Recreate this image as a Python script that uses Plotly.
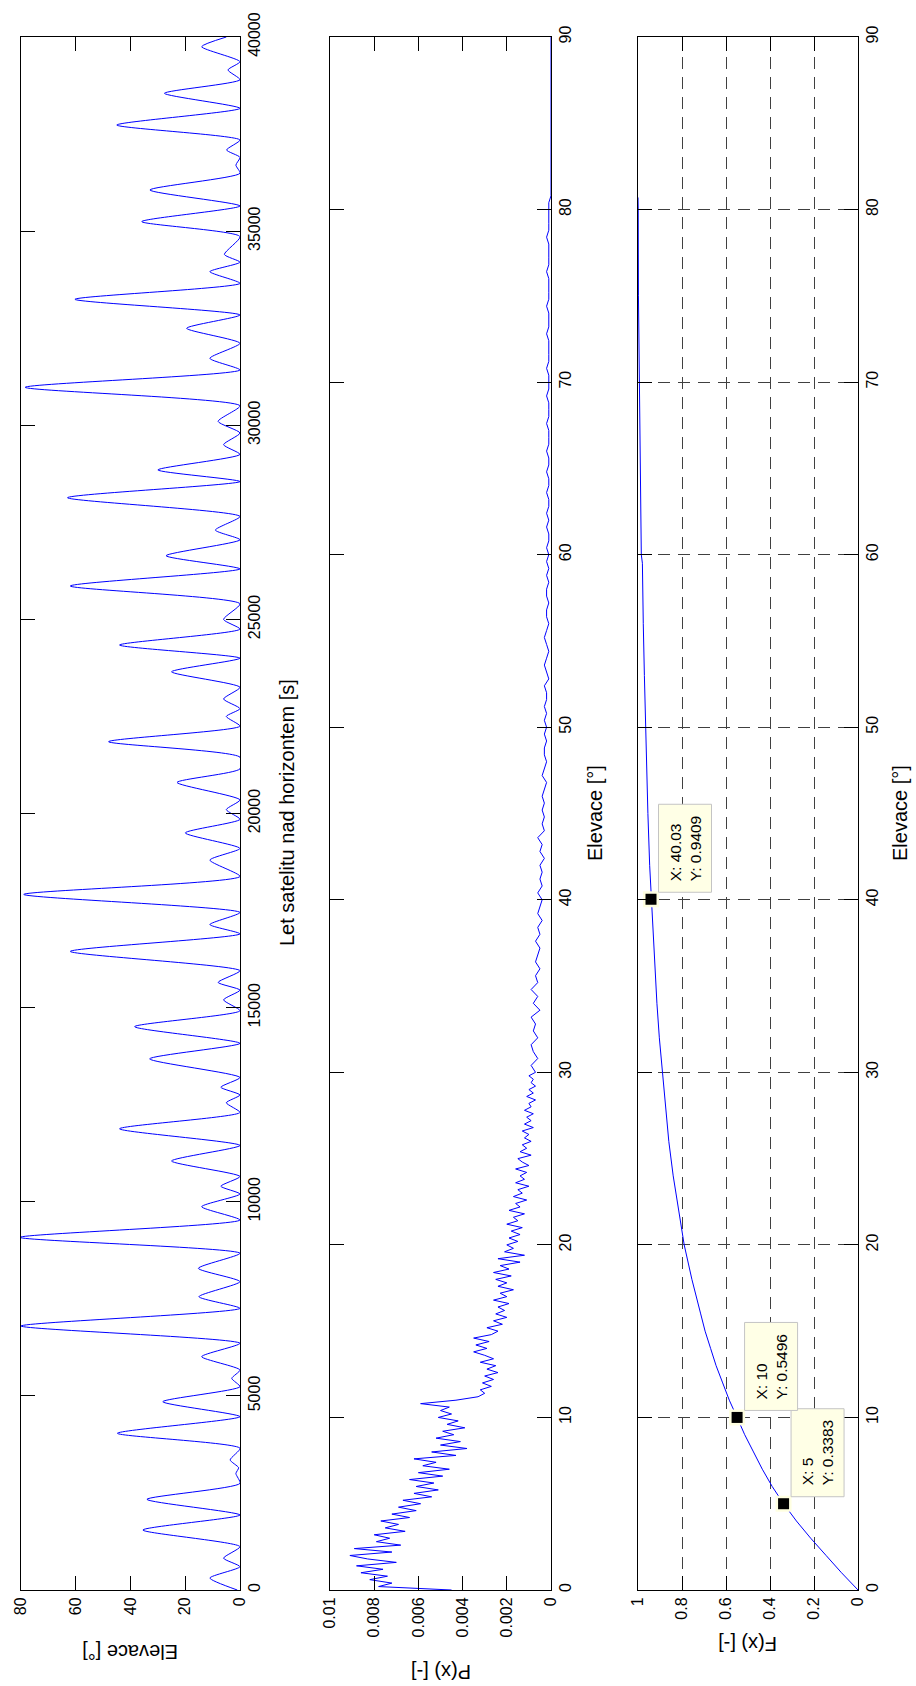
import plotly.graph_objects as go

# ---------------- Panel 1: elevation of the satellite during the flight ----------------
# (time [s], elevation [deg]) at the horizon crossings and culminations of each pass
flight_time_s = [
    0, 309, 600, 820, 1116, 1545, 1932, 2335, 2747, 3000, 3150, 3350, 3650,
    4036, 4465, 4850, 5237, 5450, 5667, 6010, 6354, 6800, 7255, 7555, 7942,
    8285, 8672, 9083, 9530, 9873, 10200, 10400, 10650, 11050, 11450, 11880,
    12300, 12550, 12750, 12950, 13200, 13680, 14080, 14510, 14920, 15200,
    15450, 15650, 15950, 16448, 16900, 17140, 17450, 17916, 18380, 18800,
    19100, 19500, 19850, 20100, 20350, 20800, 21150, 21450, 21850, 22250,
    22500, 22700, 22950, 23250, 23650, 24000, 24340, 24750, 25000, 25400,
    25860, 26300, 26640, 27050, 27300, 27650, 28134, 28550, 28850, 29250,
    29500, 29800, 30100, 30500, 30977,
    31424, 31724, 32111, 32497, 32840, 33244, 33656, 33956, 34200, 34400,
    34858, 35245, 35648, 36060, 36490, 36700, 36900, 37090, 37347, 37733,
    38163, 38550, 38900, 39151, 39364, 39750, 40000,
]
flight_elev_deg = [
    1, 11, 0, 6, 0, 35.5, 0, 34, 0, 1.5, 0.5, 3.6, 0,
    44.8, 0, 28.2, 0, 3, 0, 14, 0, 80, 0, 15, 0,
    15.2, 0, 80.4, 0, 14, 0, 7, 0, 25, 0, 44,
    0, 5, 0, 7, 0, 33, 0, 38.5, 0, 6,
    0, 8, 0, 62, 0, 11, 0, 79, 0, 11,
    0, 20, 0, 5, 0, 23, 0, 0, 48, 0,
    5, 0, 6, 0, 25, 0, 44, 0, 6, 0,
    62, 0, 27, 0, 9, 0, 63, 0, 30, 0,
    6, 0, 8, 0, 78.5,
    0, 11, 0, 19.5, 0, 60.3, 0, 11, 0, 5.7,
    0, 35.9, 0, 32.9, 0, 1.5, 0, 4.9, 0, 45,
    0, 27.6, 0, 4.4, 0, 14, 5,
]

# ---------------- Panel 2: probability of each elevation ----------------
# 0 .. 29.8 deg every 0.2 deg, values in units of 1e-3
pdf_fine_x1e3 = [
    4.5, 7.8, 7.2, 8.2, 7.4, 8.6, 7.6, 8.8, 7.0, 8.3,
    9.1, 7.2, 8.9, 6.8, 7.9, 7.3, 8.0, 6.6, 7.5, 6.9,
    7.7, 6.4, 7.2, 6.1, 6.9, 5.9, 6.7, 5.4, 6.2, 5.1,
    6.1, 5.3, 6.4, 4.9, 6.0, 4.6, 5.8, 5.2, 6.2, 4.3,
    5.4, 3.8, 5.0, 4.1, 5.2, 4.4, 4.9, 3.9, 4.7, 4.2,
    5.1, 4.5, 5.0, 4.6, 5.9, 4.3, 3.3, 3.0, 3.2, 2.7,
    3.1, 2.6, 3.0, 2.4, 2.9, 2.5, 3.2, 2.6, 3.0, 3.5,
    2.9, 3.4, 2.8, 3.5, 2.7, 2.4, 2.9, 2.2, 2.6, 2.0,
    2.5, 2.1, 2.4, 1.9, 2.6, 2.0, 2.3, 1.7, 2.4, 2.0,
    2.5, 1.8, 2.6, 1.9, 2.3, 1.4, 2.4, 1.2, 2.1, 1.7,
    2.0, 1.5, 1.9, 1.4, 1.8, 1.3, 2.0, 1.5, 1.7, 1.2,
    1.9, 1.4, 1.6, 1.1, 1.7, 1.3, 1.5, 1.0, 1.6, 1.2,
    1.4, 1.1, 1.6, 1.0, 1.3, 1.5, 0.9, 1.4, 1.1, 1.3,
    0.9, 1.2, 1.0, 1.3, 0.8, 1.2, 0.9, 1.1, 0.8, 1.2,
    0.9, 1.0, 0.7, 1.1, 0.8, 1.0, 0.7, 0.9, 0.8, 1.0,
]
# 30 .. 80.8 deg every 0.4 deg, values in units of 1e-3
pdf_coarse_x1e3 = [
    0.7, 0.9, 0.6, 0.8, 0.9, 0.6, 0.8, 0.7, 0.9, 0.5,
    0.8, 0.6, 0.9, 0.6, 0.7, 0.5, 0.7, 0.6, 0.5, 0.7,
    0.5, 0.6, 0.4, 0.6, 0.5, 0.4, 0.6, 0.4, 0.5, 0.4,
    0.5, 0.3, 0.5, 0.4, 0.6, 0.3, 0.4, 0.3, 0.4, 0.3,
    0.4, 0.3, 0.2, 0.4, 0.3, 0.2, 0.3, 0.3, 0.2, 0.3,
    0.2, 0.3, 0.2, 0.3, 0.2, 0.2, 0.3, 0.1, 0.2, 0.3,
    0.2, 0.1, 0.2, 0.3, 0.2, 0.1, 0.2, 0.2, 0.1, 0.2,
    0.2, 0.1, 0.2, 0.1, 0.2, 0.1, 0.2, 0.1, 0.1, 0.2,
    0.1, 0.2, 0.1, 0.1, 0.2, 0.1, 0.1, 0.2, 0.1, 0.1,
    0.2, 0.1, 0.1, 0.1, 0.2, 0.1, 0.1, 0.1, 0.2, 0.1,
    0.1, 0.1, 0.2, 0.1, 0.1, 0.1, 0.1, 0.2, 0.1, 0.1,
    0.1, 0.2, 0.1, 0.1, 0.1, 0.1, 0.2, 0.1, 0.1, 0.1,
    0.1, 0.2, 0.1, 0.1, 0.1, 0.1, 0.1, 0.0,
]
pdf_tail_elev = [81, 90]
pdf_tail_x1e3 = [0.0, 0.0]

# ---------------- Panel 3: cumulative distribution ----------------
cdf_elev_deg = [0, 1, 2, 3, 4, 5, 6, 7, 8, 9, 10, 11, 12, 13, 14, 15, 16, 18, 20, 22,
                24, 26, 28, 30, 32, 34, 36, 38, 40.03, 42, 45, 48, 50, 53, 56, 59.5,
                60, 63, 66, 69.7, 70, 75, 80, 80.7]
cdf_prob = [0, 0.075, 0.145, 0.215, 0.28, 0.3383, 0.39, 0.435, 0.475, 0.515, 0.5496,
            0.585, 0.615, 0.645, 0.67, 0.695, 0.715, 0.755, 0.79, 0.815, 0.84, 0.86,
            0.875, 0.89, 0.903, 0.914, 0.923, 0.932, 0.9409, 0.947, 0.955, 0.962,
            0.966, 0.971, 0.976, 0.98, 0.985, 0.988, 0.991, 0.993, 0.996, 0.998,
            0.999, 1.0]

# data cursors
tip_elev = [5, 10, 40.03]
tip_prob = [0.3383, 0.5496, 0.9409]
tip_x_text = ["5", "10", "40.03"]
tip_y_text = ["0.3383", "0.5496", "0.9409"]

# tick labels
time_ticks = list(range(0, 40001, 5000))
elev_ticks_deg = [0, 20, 40, 60, 80]
angle_ticks = list(range(0, 91, 10))
pdf_ticks = [0, 0.002, 0.004, 0.006, 0.008, 0.01]
pdf_tick_text = ["0", "0.002", "0.004", "0.006", "0.008", "0.01"]
cdf_ticks = [0, 0.2, 0.4, 0.6, 0.8, 1]
cdf_tick_text = ["0", "0.2", "0.4", "0.6", "0.8", "1"]

pdf_elev_deg = ([round(0.2 * i, 1) for i in range(len(pdf_fine_x1e3))]
                + [round(30 + 0.4 * i, 1) for i in range(len(pdf_coarse_x1e3))]
                + pdf_tail_elev)
pdf_prob = [v / 1000 for v in pdf_fine_x1e3 + pdf_coarse_x1e3 + pdf_tail_x1e3]

# ---------------- layout geometry (pixels) ----------------
W, H = 916, 1686
TOP, BOTTOM = 37, 1590
PANELS = [(21, 240), (330, 551), (638, 858)]
FONT = "Liberation Sans, Arial, Helvetica, sans-serif"
BLUE = "#0000FF"


def xdom(i):
    return [PANELS[i][0] / W, PANELS[i][1] / W]


YDOM = [1 - BOTTOM / H, 1 - TOP / H]

axis_common = dict(
    showline=True, linecolor="black", linewidth=1, mirror="allticks",
    ticks="inside", ticklen=14, tickcolor="black", tickwidth=1,
    tickfont=dict(family=FONT, size=16, color="black"),
    showgrid=False, zeroline=False, tickangle=-90, fixedrange=True,
    automargin=False,
)
grid_style = dict(showgrid=True, gridcolor="#404040", gridwidth=1, griddash="12px,8px")

fig = go.Figure()

fig.add_trace(go.Scatter(x=flight_elev_deg, y=flight_time_s, xaxis="x", yaxis="y",
                         mode="lines", line=dict(color=BLUE, width=1, shape="spline", smoothing=0.6),
                         showlegend=False))
fig.add_trace(go.Scatter(x=pdf_prob, y=pdf_elev_deg, xaxis="x2", yaxis="y2",
                         mode="lines", line=dict(color=BLUE, width=1), showlegend=False))
fig.add_trace(go.Scatter(x=cdf_prob, y=cdf_elev_deg, xaxis="x3", yaxis="y3",
                         mode="lines", line=dict(color=BLUE, width=1), showlegend=False))
# cursor markers: pale halo with a black square on top
fig.add_trace(go.Scatter(x=tip_prob, y=tip_elev, xaxis="x3", yaxis="y3", mode="markers",
                         marker=dict(symbol="square", size=16, color="#FFFFE1"),
                         showlegend=False, cliponaxis=False))
fig.add_trace(go.Scatter(x=tip_prob, y=tip_elev, xaxis="x3", yaxis="y3", mode="markers",
                         marker=dict(symbol="square", size=11, color="black"),
                         showlegend=False, cliponaxis=False))

fig.update_layout(
    width=W, height=H, margin=dict(l=0, r=0, t=0, b=0, pad=0, autoexpand=False),
    paper_bgcolor="white", plot_bgcolor="white", showlegend=False,
    xaxis=dict(axis_common, domain=xdom(0), anchor="y", range=[80, 0],
               tickvals=elev_ticks_deg, ticktext=[str(v) for v in elev_ticks_deg]),
    yaxis=dict(axis_common, domain=YDOM, anchor="x", side="right", range=[0, 40000],
               tickvals=time_ticks, ticktext=[str(v) for v in time_ticks]),
    xaxis2=dict(axis_common, domain=xdom(1), anchor="y2", range=[0.01, 0],
                tickvals=pdf_ticks, ticktext=pdf_tick_text),
    yaxis2=dict(axis_common, domain=YDOM, anchor="x2", side="right", range=[0, 90],
                tickvals=angle_ticks, ticktext=[str(v) for v in angle_ticks]),
    xaxis3=dict(axis_common, **grid_style, domain=xdom(2), anchor="y3", range=[1, 0],
                tickvals=cdf_ticks, ticktext=cdf_tick_text),
    yaxis3=dict(axis_common, **grid_style, domain=YDOM, anchor="x3", side="right",
                range=[0, 90], tickvals=angle_ticks, ticktext=[str(v) for v in angle_ticks]),
)

# axis titles
titles = [
    ("Let satelitu nad horizontem [s]", 287, 813, -90),
    ("Elevace [°]", 595, 813, -90),
    ("Elevace [°]", 900, 813, -90),
    ("Elevace [°]", 130, 1652, 180),
    ("P(x) [-]", 441, 1672, 180),
    ("F(x) [-]", 748, 1644, 180),
]
for text, px, py, ang in titles:
    fig.add_annotation(text=text, xref="paper", yref="paper", x=px / W, y=1 - py / H,
                       xanchor="center", yanchor="middle", showarrow=False, textangle=ang,
                       font=dict(family=FONT, size=20, color="black"))

# data cursor boxes with their readouts
for p, e, xt, yt in zip(tip_prob, tip_elev, tip_x_text, tip_y_text):
    fig.add_shape(type="rect", xref="x3", yref="y3", xsizemode="pixel", ysizemode="pixel",
                  xanchor=p, yanchor=e, x0=7.5, x1=60.5, y0=7, y1=95,
                  fillcolor="#FFFFE6", line=dict(color="#C4C4C4", width=1), layer="above")
    fig.add_annotation(text=f"X: {xt}<br>Y: {yt}", xref="x3", yref="y3", x=p, y=e,
                       xshift=34, yshift=51, xanchor="center", yanchor="middle",
                       showarrow=False, textangle=-90, align="left",
                       font=dict(family=FONT, size=15.5, color="black"))

fig.write_html("out.html")
